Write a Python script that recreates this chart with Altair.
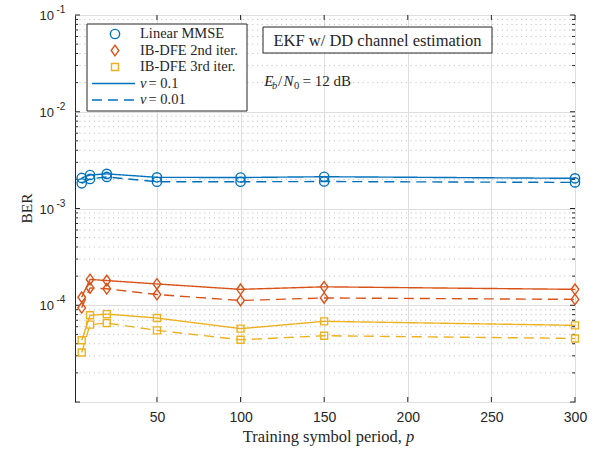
import altair as alt
import pandas as pd

# ---- data -------------------------------------------------------------
p_values = [5, 10, 20, 50, 100, 150, 300]

mmse_nu01 = [2.07e-3, 2.22e-3, 2.28e-3, 2.10e-3, 2.09e-3, 2.13e-3, 2.05e-3]
mmse_nu001 = [1.82e-3, 2.02e-3, 2.12e-3, 1.89e-3, 1.89e-3, 1.90e-3, 1.86e-3]
ibdfe2_nu01 = [1.21e-4, 1.85e-4, 1.80e-4, 1.66e-4, 1.46e-4, 1.55e-4, 1.46e-4]
ibdfe2_nu001 = [9.4e-5, 1.51e-4, 1.48e-4, 1.29e-4, 1.12e-4, 1.19e-4, 1.15e-4]
ibdfe3_nu01 = [4.34e-5, 7.87e-5, 8.10e-5, 7.38e-5, 5.73e-5, 6.82e-5, 6.20e-5]
ibdfe3_nu001 = [3.25e-5, 6.30e-5, 6.55e-5, 5.50e-5, 4.40e-5, 4.84e-5, 4.54e-5]

algorithms = ["Linear MMSE", "IB-DFE 2nd iter.", "IB-DFE 3rd iter."]
nu_labels = ["0.1", "0.01"]

x_ticks = [50, 100, 150, 200, 250, 300]
y_major_exps = [-5, -4, -3, -2, -1]
y_label_exps = [-1, -2, -3, -4]

# ---- styling ------------------------------------------------------------
W, H = 500, 387
COLORS = ["#0072BD", "#D95319", "#EDB120"]
# tall diamond, drawn in Vega's [-1, 1] custom-shape box
DIAMOND = "M0,-1L0.72,0L0,1L-0.72,0Z"
SHAPES = ["circle", DIAMOND, "square"]
SIZES = [86, 112, 49]
AX = "#262626"
SERIF = "Liberation Serif"
SANS = "Liberation Sans"

series = {
    ("Linear MMSE", "0.1"): mmse_nu01,
    ("Linear MMSE", "0.01"): mmse_nu001,
    ("IB-DFE 2nd iter.", "0.1"): ibdfe2_nu01,
    ("IB-DFE 2nd iter.", "0.01"): ibdfe2_nu001,
    ("IB-DFE 3rd iter.", "0.1"): ibdfe3_nu01,
    ("IB-DFE 3rd iter.", "0.01"): ibdfe3_nu001,
}
rows = []
for (algo, nu), vals in series.items():
    for p, v in zip(p_values, vals):
        rows.append({"p": p, "ber": v, "algo": algo, "nu": nu})
df = pd.DataFrame(rows)

xscale = alt.Scale(domain=[1, 300], nice=False, zero=False)
yscale = alt.Scale(type="log", domain=[1e-5, 1e-1], nice=False)
xaxis = alt.Axis(values=x_ticks, ticks=False, domain=False, grid=True,
                 gridColor="#dedede", gridWidth=1, title=None,
                 labelFont=SANS, labelFontSize=14, labelColor=AX,
                 labelPadding=8, labelFlush=False)
yaxis = alt.Axis(values=[10.0 ** e for e in y_major_exps], labels=False,
                 ticks=False, domain=False, grid=True, gridColor="#dedede",
                 gridWidth=1, title=None)


def X():
    return alt.X("p:Q", scale=xscale, axis=xaxis)


def Y():
    return alt.Y("ber:Q", scale=yscale, axis=yaxis)


one = pd.DataFrame({"k": [0]})

minor_vals = [m * 10.0 ** e for e in y_major_exps[:-1] for m in range(2, 10)]
major_vals = [10.0 ** e for e in y_major_exps]
minor_df = pd.DataFrame({"ber": minor_vals})
major_df = pd.DataFrame({"ber": major_vals})
xt_df = pd.DataFrame({"p": x_ticks})

layers = []

# dotted minor grid
layers.append(alt.Chart(minor_df).mark_rule(color="#c4c4c4", strokeWidth=1,
                                            strokeDash=[1.2, 3.6]).encode(y=Y()))

# inward ticks on all four sides
for x0, x1, d in [(0, 5, major_df), (0, 3, minor_df), (W - 5, W, major_df), (W - 3, W, minor_df)]:
    layers.append(alt.Chart(d).mark_rule(color=AX, strokeWidth=1).encode(
        y=Y(), x=alt.value(x0), x2=alt.value(x1)))
for y0, y1 in [(H - 5, H), (0, 5)]:
    layers.append(alt.Chart(xt_df).mark_rule(color=AX, strokeWidth=1).encode(
        x=X(), y=alt.value(y0), y2=alt.value(y1)))

# data lines
layers.append(alt.Chart(df).mark_line(strokeWidth=1.4).encode(
    x=X(), y=Y(),
    color=alt.Color("algo:N", scale=alt.Scale(domain=algorithms, range=COLORS), legend=None),
    strokeDash=alt.StrokeDash("nu:N", scale=alt.Scale(domain=nu_labels, range=[[1, 0], [10, 6]]), legend=None),
    order="p:Q",
))

# markers
for algo, col, shp, sz in zip(algorithms, COLORS, SHAPES, SIZES):
    layers.append(alt.Chart(df).transform_filter(alt.datum.algo == algo).mark_point(
        shape=shp, size=sz, filled=False, color=col, strokeWidth=1.4, opacity=1
    ).encode(x=X(), y=Y()))

# y tick labels 10^e
ylab_df = pd.DataFrame({"ber": [10.0 ** e for e in y_label_exps],
                        "base": ["10"] * len(y_label_exps),
                        "exp": [str(e) for e in y_label_exps]})
layers.append(alt.Chart(ylab_df).mark_text(align="right", baseline="middle", font=SANS,
                                           fontSize=13, color=AX, dy=1).encode(
    y=Y(), x=alt.value(-21), text="base:N"))
layers.append(alt.Chart(ylab_df).mark_text(align="left", baseline="middle", font=SANS,
                                           fontSize=10, color=AX, dy=-5).encode(
    y=Y(), x=alt.value(-18.5), text="exp:N"))

# axis titles
layers.append(alt.Chart(one).mark_text(align="center", baseline="middle", font=SERIF,
                                       fontSize=15.5, angle=270, color=AX).encode(
    x=alt.value(-48), y=alt.value(H / 2), text=alt.value("BER")))
layers.append(alt.Chart(one).mark_text(align="right", baseline="middle", font=SERIF,
                                       fontSize=16.5, color=AX).encode(
    x=alt.value(327), y=alt.value(422), text=alt.value("Training symbol period,")))
layers.append(alt.Chart(one).mark_text(align="left", baseline="middle", font=SERIF,
                                       fontSize=16.5, fontStyle="italic", color=AX).encode(
    x=alt.value(331), y=alt.value(422), text=alt.value("p")))

# legend box
layers.append(alt.Chart(one).mark_rect(fill="white", stroke=AX, strokeWidth=1).encode(
    x=alt.value(12), x2=alt.value(172), y=alt.value(9), y2=alt.value(96)))
legend_y = [19, 35.5, 52, 68.5, 85]
for algo, col, shp, sz, ly in zip(algorithms, COLORS, SHAPES, SIZES, legend_y):
    layers.append(alt.Chart(one).mark_point(shape=shp, size=sz, filled=False, color=col,
                                            strokeWidth=1.4, opacity=1).encode(
        x=alt.value(40), y=alt.value(ly)))
    layers.append(alt.Chart(one).mark_text(align="left", baseline="middle", font=SERIF,
                                           fontSize=14.5, color=AX).encode(
        x=alt.value(65), y=alt.value(ly), text=alt.value(algo)))
for nu, dash, ly in zip(nu_labels, [[1, 0], [10, 6]], legend_y[3:]):
    layers.append(alt.Chart(one).mark_rule(color=COLORS[0], strokeWidth=1.4, strokeDash=dash).encode(
        x=alt.value(17), x2=alt.value(60), y=alt.value(ly)))
    layers.append(alt.Chart(one).mark_text(align="left", baseline="middle", font=SERIF,
                                           fontSize=14.5, fontStyle="italic", color=AX).encode(
        x=alt.value(65), y=alt.value(ly), text=alt.value("ν")))
    layers.append(alt.Chart(one).mark_text(align="left", baseline="middle", font=SERIF,
                                           fontSize=14.5, color=AX).encode(
        x=alt.value(73.5), y=alt.value(ly), text=alt.value("= " + nu)))

# annotation box
layers.append(alt.Chart(one).mark_rect(fill="white", stroke=AX, strokeWidth=1).encode(
    x=alt.value(188), x2=alt.value(417), y=alt.value(12), y2=alt.value(38)))
layers.append(alt.Chart(one).mark_text(align="center", baseline="middle", font=SERIF,
                                       fontSize=16.5, color=AX).encode(
    x=alt.value(302.5), y=alt.value(25.5), text=alt.value("EKF w/ DD channel estimation")))

# E_b / N_0 = 12 dB
eb_parts = [
    ("E", 189.3, 71, 15, "italic"),
    ("b", 197, 74, 10.5, "italic"),
    ("/", 203, 71, 15, "normal"),
    ("N", 208.5, 71, 15, "italic"),
    ("0", 219, 74, 10.5, "normal"),
    ("= 12 dB", 227.5, 71, 15, "normal"),
]
for txt, tx, ty, fs, st in eb_parts:
    layers.append(alt.Chart(one).mark_text(align="left", baseline="alphabetic", font=SERIF,
                                           fontSize=fs, fontStyle=st, color=AX).encode(
        x=alt.value(tx), y=alt.value(ty), text=alt.value(txt)))

chart = alt.layer(*layers).properties(
    width=W, height=H,
    autosize=alt.AutoSizeParams(type="none"),
    padding={"left": 75, "top": 15, "right": 20, "bottom": 49},
    background="white",
).configure_view(stroke=AX, strokeWidth=1)

chart.save("out.html", embed_options={"renderer": "svg", "actions": False})
